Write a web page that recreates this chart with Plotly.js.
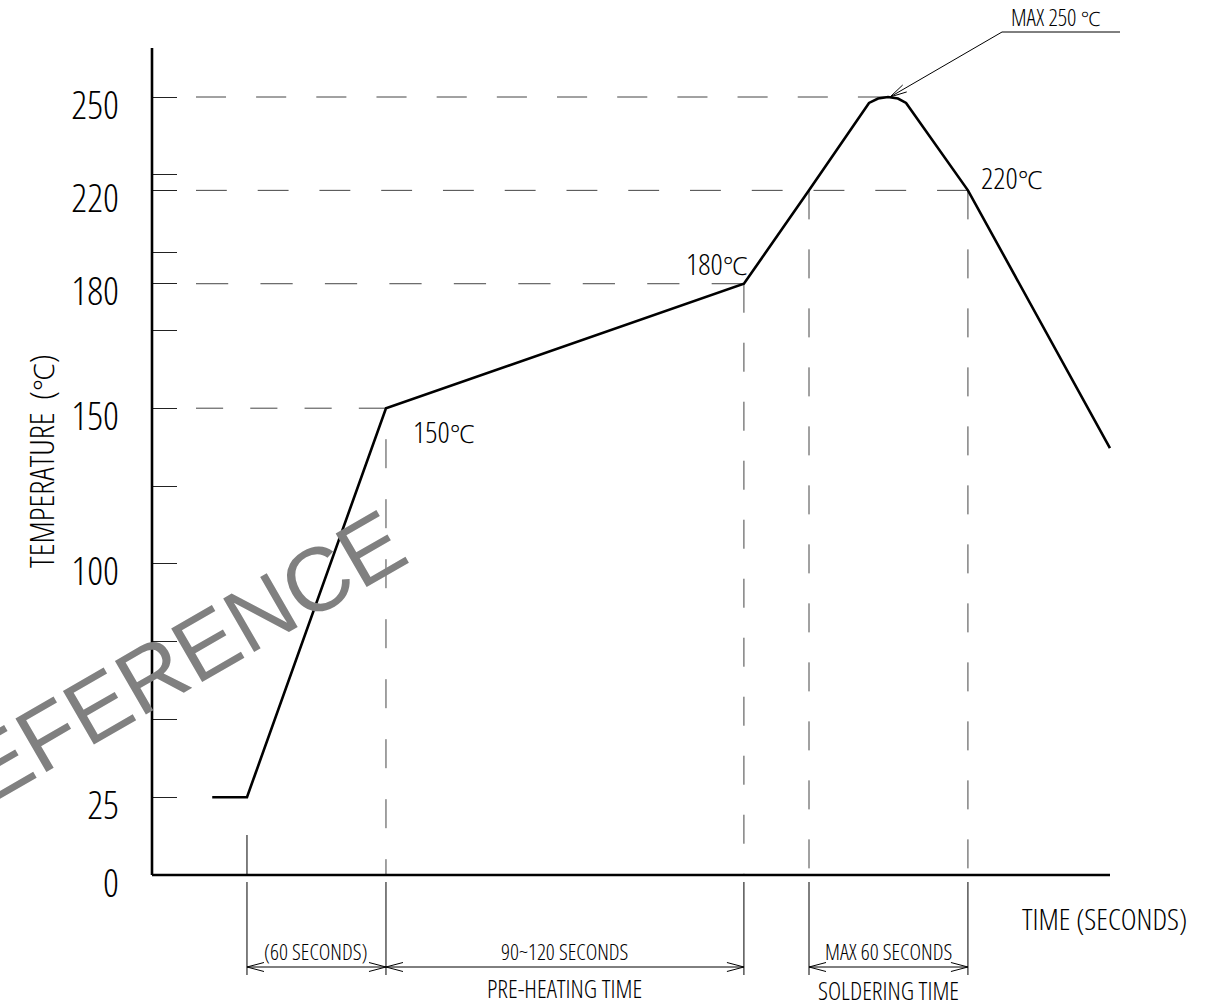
<!DOCTYPE html>
<html>
<head>
<meta charset="utf-8">
<script src="https://cdn.plot.ly/plotly-3.0.1.min.js"></script>
<style>
  html, body { margin: 0; padding: 0; background: #fff; }
  #chart { width: 1213px; height: 1007px; }
  /* CAD-like narrow lettering: Open Sans Light, condensed width */
  svg text { font-stretch: condensed; }
</style>
</head>
<body>
<div id="chart"></div>
<script>
// ---------------- data ----------------
// time in nominal seconds (the drawing's time axis is schematic)
const profileTime = [26, 41, 101, 255.5, 283.6, 309.5, 313.4, 317.7, 322, 325.5, 352.2, 413.5];
// temperature position on the drawing's vertical scale
const profileTemp = [25, 25, 150, 190, 220, 248.1, 249.5, 250, 249.5, 248.1, 220, 137.2];

// y axis ticks (the "180" level is drawn at the 190 position of the scale)
const yTickVals = [0, 25, 50, 75, 100, 125, 150, 175, 190, 200, 220, 225, 250];
const yTickText = ['0', '25', '', '', '100', '', '150', '', '180', '', '220', '', '250'];

// horizontal guide levels and where they end on the profile
const levelTemp = [150, 190, 220, 250];
const levelEndTime = [101, 255.5, 352.2, 317.7];
const levelDashCount = [4, 9, 13, 12];

// vertical guide marks (time, temperature at top)
const markTime = [101, 255.5, 283.6, 352.2];
const markTemp = [150, 190, 220, 220];

// point labels
const pointLabelText = ['150', '180', '220'];
const pointLabelTime = [101, 255.5, 352.2];
const pointLabelTemp = [150, 190, 220];

// dimension spans below the time axis
const dimStart = [41, 101, 283.6];
const dimEnd = [101, 255.5, 352.2];
const dimText = ['(60 SECONDS)', '90~120 SECONDS', 'MAX 60 SECONDS'];
const phaseText = ['PRE-HEATING TIME', 'SOLDERING TIME'];
const phaseStart = [101, 283.6];
const phaseEnd = [255.5, 352.2];

const peakTime = 317.7, peakTemp = 250;
const peakText = 'MAX 250 ';
const yTitle = 'TEMPERATURE&nbsp;&nbsp;(';
const xTitle = 'TIME (SECONDS)';

// ---------------- geometry helpers (layout only) ----------------
const W = 1213, H = 1007;
const axisPxX = 152, axisPxY = 875;
const kx = 139 / 60;      // px per time unit
const ky = 778 / 250;     // px per temperature unit
const xRange = [-axisPxX / kx, (W - axisPxX) / kx];
const yRange = [-(H - axisPxY) / ky, axisPxY / ky];
const dx = p => p / kx;   // px -> data (x)
const dy = p => p / ky;   // px -> data (y)
const X = px => (px - axisPxX) / kx;
const Y = py => (axisPxY - py) / ky;

const CAD = 'Open Sans';
const CADW = 300;
const deg = sz => `<span style="font-family:Noto Sans;font-weight:300;font-size:${sz}px">℃</span>`;
const shapes = [];
const annotations = [];

// axes lines
shapes.push({type: 'line', xref: 'x', yref: 'y', x0: 0, x1: 0, y0: 0, y1: Y(48),
  line: {color: '#000', width: 2.6}});
shapes.push({type: 'line', xref: 'x', yref: 'y', x0: 0, x1: X(1110), y0: 0, y1: 0,
  line: {color: '#000', width: 2.6}});

// horizontal dashed guides (drawn from the profile back to the axis)
const guideStartT = X(196);
levelTemp.forEach((v, i) => {
  const lenPx = (levelEndTime[i] - guideStartT) * kx;
  const d = (lenPx / (2 * levelDashCount[i] - 1)).toFixed(2);
  shapes.push({type: 'line', xref: 'x', yref: 'y', x0: levelEndTime[i], x1: guideStartT, y0: v, y1: v,
    line: {color: '#444', width: 1, dash: d + 'px,' + d + 'px'}, layer: 'below'});
});
// vertical dashed guides
markTime.forEach((t, i) => {
  shapes.push({type: 'line', xref: 'x', yref: 'y', x0: t, x1: t, y0: markTemp[i], y1: 0,
    line: {color: '#444', width: 1, dash: i === 0 ? '0px,31px,29px,0px' : '29px,30px'}, layer: 'below'});
});

// extension lines below axis
const extTimes = [41, 101, 255.5, 283.6, 352.2];
extTimes.forEach(t => {
  shapes.push({type: 'line', xref: 'x', yref: 'y', x0: t, x1: t, y0: Y(882), y1: Y(975),
    line: {color: '#000', width: 1}});
});
// short mark above axis at ramp start
shapes.push({type: 'line', xref: 'x', yref: 'y', x0: 41, x1: 41, y0: Y(835), y1: 0,
  line: {color: '#000', width: 1}});

// dimension lines with open arrowheads
const dimY = Y(967);
const aL = dx(17), aW = dy(4.5);
dimStart.forEach((a, i) => {
  const b = dimEnd[i];
  shapes.push({type: 'line', xref: 'x', yref: 'y', x0: a, x1: b, y0: dimY, y1: dimY,
    line: {color: '#000', width: 1}});
  const p = `M${a + aL},${dimY + aW} L${a},${dimY} L${a + aL},${dimY - aW} ` +
            `M${b - aL},${dimY + aW} L${b},${dimY} L${b - aL},${dimY - aW}`;
  shapes.push({type: 'path', xref: 'x', yref: 'y', path: p, line: {color: '#000', width: 1}});
  annotations.push({xref: 'x', yref: 'y', x: (a + b) / 2, y: dimY, yshift: 16,
    text: dimText[i], showarrow: false, xanchor: 'center', yanchor: 'middle',
    font: {family: CAD, weight: CADW, size: 22, color: '#000'}});
});
phaseText.forEach((s, i) => {
  annotations.push({xref: 'x', yref: 'y', x: (phaseStart[i] + phaseEnd[i]) / 2, y: dimY,
    yshift: -21 - (i === 1 ? 2 : 0), text: s, showarrow: false, xanchor: 'center', yanchor: 'middle',
    font: {family: CAD, weight: CADW, size: 25, color: '#000'}});
});

// leader to the peak
const tipX = peakTime + dx(2), tipY = peakTemp;
const cornerX = tipX + dx(112), cornerY = tipY + dy(65);
shapes.push({type: 'path', xref: 'x', yref: 'y',
  path: `M${tipX},${tipY} L${cornerX},${cornerY} L${cornerX + dx(118)},${cornerY}`,
  line: {color: '#000', width: 1}});
{
  const ux = 112, uy = -65, L = Math.hypot(ux, uy);
  const u = [ux / L, uy / L], n = [-u[1], u[0]];
  const p1 = [u[0] * 17 + n[0] * 4, u[1] * 17 + n[1] * 4];
  const p2 = [u[0] * 17 - n[0] * 4, u[1] * 17 - n[1] * 4];
  shapes.push({type: 'path', xref: 'x', yref: 'y',
    path: `M${tipX + dx(p1[0])},${tipY - dy(p1[1])} L${tipX},${tipY} L${tipX + dx(p2[0])},${tipY - dy(p2[1])}`,
    line: {color: '#000', width: 1}});
}
annotations.push({xref: 'x', yref: 'y', x: cornerX + dx(7), y: cornerY, yshift: 15,
  text: peakText + deg(20), showarrow: false, xanchor: 'left', yanchor: 'middle',
  font: {family: CAD, weight: CADW, size: 23, color: '#000'}});

// point labels
const plShift = [[25, -23], [-60, 20], [11, 13]];
pointLabelText.forEach((s, i) => {
  annotations.push({xref: 'x', yref: 'y', x: pointLabelTime[i], y: pointLabelTemp[i],
    xshift: plShift[i][0], yshift: plShift[i][1], text: s + deg(25), showarrow: false,
    xanchor: 'left', yanchor: 'middle', font: {family: CAD, weight: CADW, size: 30, color: '#000'}});
});

// time axis title
annotations.push({xref: 'paper', yref: 'paper', x: 1020 / W, y: 1 - 918 / H,
  text: xTitle, showarrow: false, xanchor: 'left', yanchor: 'middle',
  font: {family: CAD, weight: CADW, size: 30, color: '#000'}});

// temperature axis title (rotated)
annotations.push({xref: 'paper', yref: 'paper', x: 42 / W, y: 1 - 461 / H,
  text: yTitle + deg(28) + ')', showarrow: false, textangle: -90, xanchor: 'center', yanchor: 'middle',
  font: {family: CAD, weight: CADW, size: 33, color: '#000'}});

// watermark (partly off the left edge, as in the source drawing)
annotations.push({xref: 'paper', yref: 'paper', x: 156 / W, y: 1 - 673 / H,
  text: 'REFERENCE', showarrow: false, textangle: -30, xanchor: 'center', yanchor: 'middle',
  font: {family: '"Liberation Sans", Arial, sans-serif', size: 90, color: '#808080'}});

const traces = [{
  type: 'scatter', mode: 'lines', x: profileTime, y: profileTemp,
  line: {color: '#000', width: 2.6}, hoverinfo: 'skip', showlegend: false
}];

const layout = {
  width: W, height: H,
  margin: {l: 0, r: 0, t: 0, b: 0, pad: 0},
  paper_bgcolor: '#fff', plot_bgcolor: '#fff',
  showlegend: false,
  xaxis: {range: xRange, visible: true, showgrid: false, zeroline: false, showline: false,
    showticklabels: false, ticks: '', fixedrange: true},
  yaxis: {range: yRange, anchor: 'free', position: axisPxX / W, side: 'left',
    showgrid: false, zeroline: false, showline: false,
    tickmode: 'array', tickvals: yTickVals, ticktext: yTickText,
    ticks: 'inside', ticklen: 24, tickwidth: 1, tickcolor: '#222',
    ticklabelshift: 8, ticklabelstandoff: 33,
    tickfont: {family: CAD, weight: CADW, size: 39, color: '#000'},
    fixedrange: true},
  shapes: shapes,
  annotations: annotations
};

Plotly.newPlot('chart', traces, layout, {staticPlot: true, displayModeBar: false});
</script>
</body>
</html>
